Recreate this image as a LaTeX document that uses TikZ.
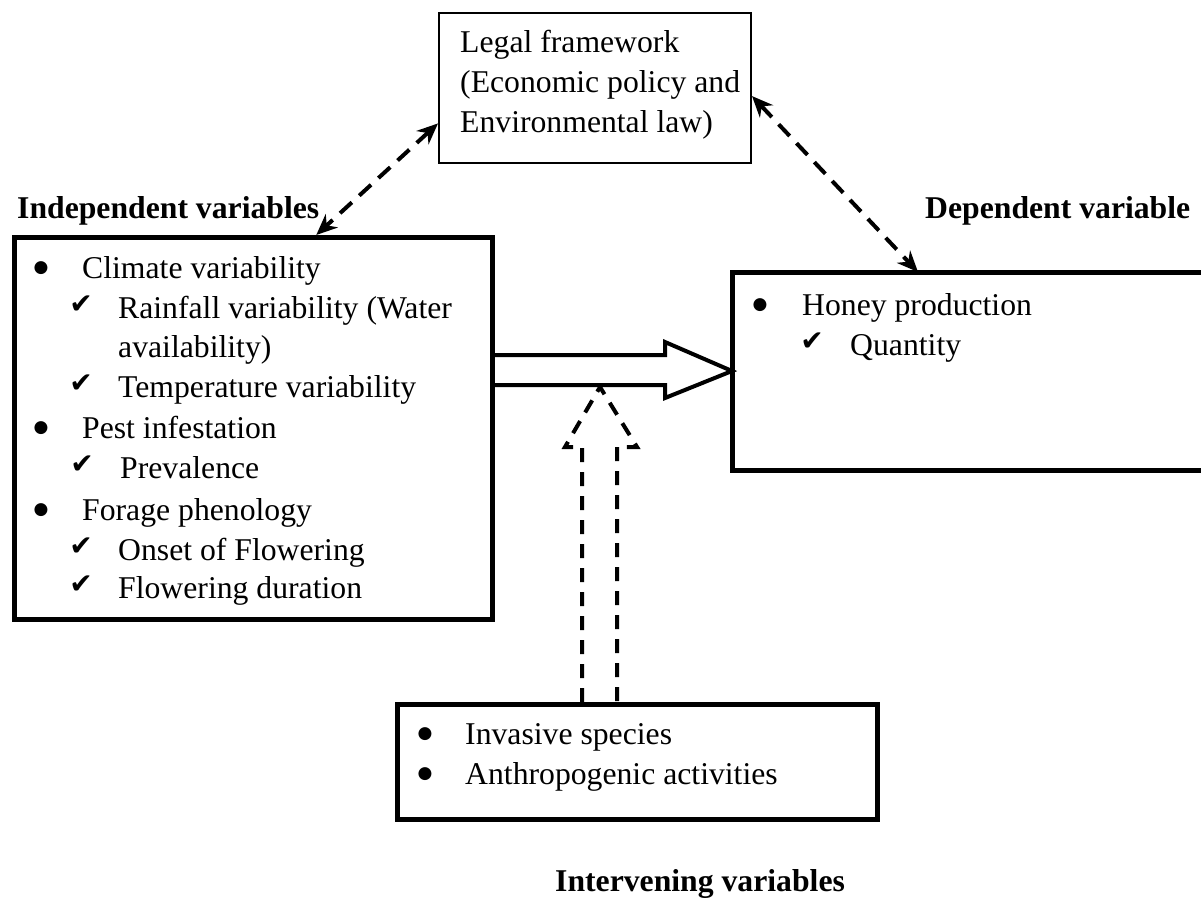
\documentclass[tikz,border=0pt]{standalone}
\usepackage{fontspec}
\setmainfont{Liberation Serif}
\newfontfamily\dejavu{DejaVu Sans}
\usetikzlibrary{arrows.meta,calc}
\tikzset{
  thickbox/.style={draw, line width=5pt, inner sep=0pt, anchor=north west},
  thinbox/.style={draw, line width=2pt, inner sep=0pt, anchor=north west},
  plainbox/.style={inner sep=0pt, anchor=north west},
  txt/.style={anchor=base west, inner sep=0pt, font=\fontsize{31.7}{38}\selectfont},
  head/.style={anchor=base west, inner sep=0pt, font=\fontsize{31.7}{38}\selectfont\bfseries},
  bulletmark/.style={anchor=center, inner sep=0pt, font=\dejavu\fontsize{17}{17}\selectfont},
  checkmark/.style={anchor=center, inner sep=0pt, font=\dejavu\fontsize{28}{28}\selectfont},
  dasharrow/.style={line width=4pt, dash pattern=on 16pt off 10pt,
    {Stealth[length=21pt,width=18pt]}-{Stealth[length=21pt,width=18pt]}},
  blockarrow/.style={line width=4pt, fill=white, line join=miter},
  dashblock/.style={line width=4pt, dash pattern=on 14pt off 10pt, line join=miter}
}
\begin{document}
\begin{tikzpicture}[x=1pt,y=-1pt]
\useasboundingbox (0,0) rectangle (1201,911);

% boxes (geometry)
\node[thinbox, minimum width=312pt, minimum height=150pt] (legal) at (438,12) {};
\node[plainbox, minimum width=469pt, minimum height=198pt] (dep) at (732,272) {};
\node[plainbox, minimum width=478pt, minimum height=382pt] (indep) at (12,235) {};
\node[plainbox, minimum width=480pt, minimum height=115pt] (interv) at (395,702) {};

% block arrow from independent to dependent
\draw[blockarrow] (indep.east |- 0,355) -- (665,355) -- (665,342) -- (dep.west |- 0,371)
  -- (665,398) -- (665,385) -- (indep.east |- 0,385);

% dashed block arrow from intervening box up
\draw[dashblock] (582,702) -- (582,447) -- (565,447) -- (600,387) -- (637,447) -- (617,447) -- (617,702);

% dashed double-headed arrows
\draw[dasharrow] ($(legal.north west)!0.733!(legal.south west)$) -- ($(indep.north west)!0.636!(indep.north east)$);
\draw[dasharrow] ($(legal.north east)!0.553!(legal.south east)$) -- ([xshift=186pt]dep.north west);

% drawn borders of thick boxes
\node[thickbox, minimum width=478pt, minimum height=382pt, fill=white] at (12,235) {};
\node[thickbox, minimum width=480pt, minimum height=115pt, fill=white] at (395,702) {};
\draw[line width=5pt] (dep.north east) -- (dep.north west) -- (dep.south west) -- (dep.south east);

% legal framework text
\node[txt] (l1) at (460,52) {Legal framework};
\node[txt] (l2) at (460,92) {(Economic policy and};
\node[txt] (l3) at (460,132) {Environmental law)};

% headings
\node[head] (h1) at (17,218) {Independent variables};
\node[head] (h2) at (925,218) {Dependent variable};
\node[head] (h3) at (555,891) {Intervening variables};

% independent box text
\node[bulletmark] (b1) at (41,268) {●};
\node[txt] (t1) at (82,278) {Climate variability};
\node[checkmark] (c1) at (81,305) {✔};
\node[txt] (t2) at (118,318) {Rainfall variability (Water};
\node[txt] (t3) at (118,357) {availability)};
\node[checkmark] (c2) at (81,384) {✔};
\node[txt] (t4) at (118,397) {Temperature variability};
\node[bulletmark] (b2) at (41,428) {●};
\node[txt] (t5) at (82,438) {Pest infestation};
\node[checkmark] (c3) at (82,465) {✔};
\node[txt] (t6) at (120,478) {Prevalence};
\node[bulletmark] (b3) at (41,510) {●};
\node[txt] (t7) at (82,520) {Forage phenology};
\node[checkmark] (c4) at (81,547) {✔};
\node[txt] (t8) at (118,560) {Onset of Flowering};
\node[checkmark] (c5) at (81,585) {✔};
\node[txt] (t9) at (118,598) {Flowering duration};

% dependent box text
\node[bulletmark] (d1) at (760,305) {●};
\node[txt] (d2) at (802,315) {Honey production};
\node[checkmark] (d3) at (812,342) {✔};
\node[txt] (d4) at (850,355) {Quantity};

% intervening box text
\node[bulletmark] (i1) at (425,734) {●};
\node[txt] (i2) at (465,744) {Invasive species};
\node[bulletmark] (i3) at (425,774) {●};
\node[txt] (i4) at (465,784) {Anthropogenic activities};
\end{tikzpicture}
\end{document}
